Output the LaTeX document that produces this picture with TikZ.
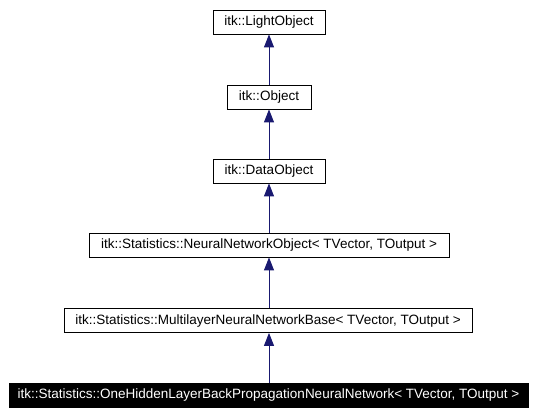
\documentclass[tikz,border=0pt]{standalone}
\usepackage{fontspec}
\setmainfont{Liberation Sans}
\usetikzlibrary{arrows.meta}
\definecolor{edgeblue}{RGB}{25,25,112}
\begin{document}
\begin{tikzpicture}[x=1bp,y=-1bp,
  cls/.style={draw=black,line width=0.8bp,fill=white,minimum height=24bp,inner sep=0pt,
    font=\fontsize{13.5bp}{15bp}\selectfont,anchor=center},
  cur/.style={cls,fill=black,text=white},
  edge/.style={draw=edgeblue,line width=1bp,-{Triangle[width=10bp,length=13bp]}}]
\useasboundingbox (0,0) rectangle (535,415);
\node[cls,minimum width=112bp] (light) at (269,22) {itk::LightObject};
\node[cls,minimum width=84bp] (obj) at (269,97) {itk::Object};
\node[cls,minimum width=112bp] (data) at (269,171) {itk::DataObject};
\node[cls,minimum width=360bp] (nno) at (269,245) {itk::Statistics::NeuralNetworkObject< TVector, TOutput >};
\node[cls,minimum width=408bp] (mlb) at (268,320.5) {itk::Statistics::MultilayerNeuralNetworkBase< TVector, TOutput >};
\node[cur,minimum width=519bp] (oh) at (268.5,395) {itk::Statistics::OneHiddenLayerBackPropagationNeuralNetwork< TVector, TOutput >};
\draw[edge] (obj.north) -- (light.south);
\draw[edge] (data.north) -- (obj.south);
\draw[edge] (nno.north) -- (data.south);
\draw[edge] (mlb.north -| nno.south) -- (nno.south);
\draw[edge] (oh.north -| nno.south) -- (mlb.south -| nno.south);
\end{tikzpicture}
\end{document}
